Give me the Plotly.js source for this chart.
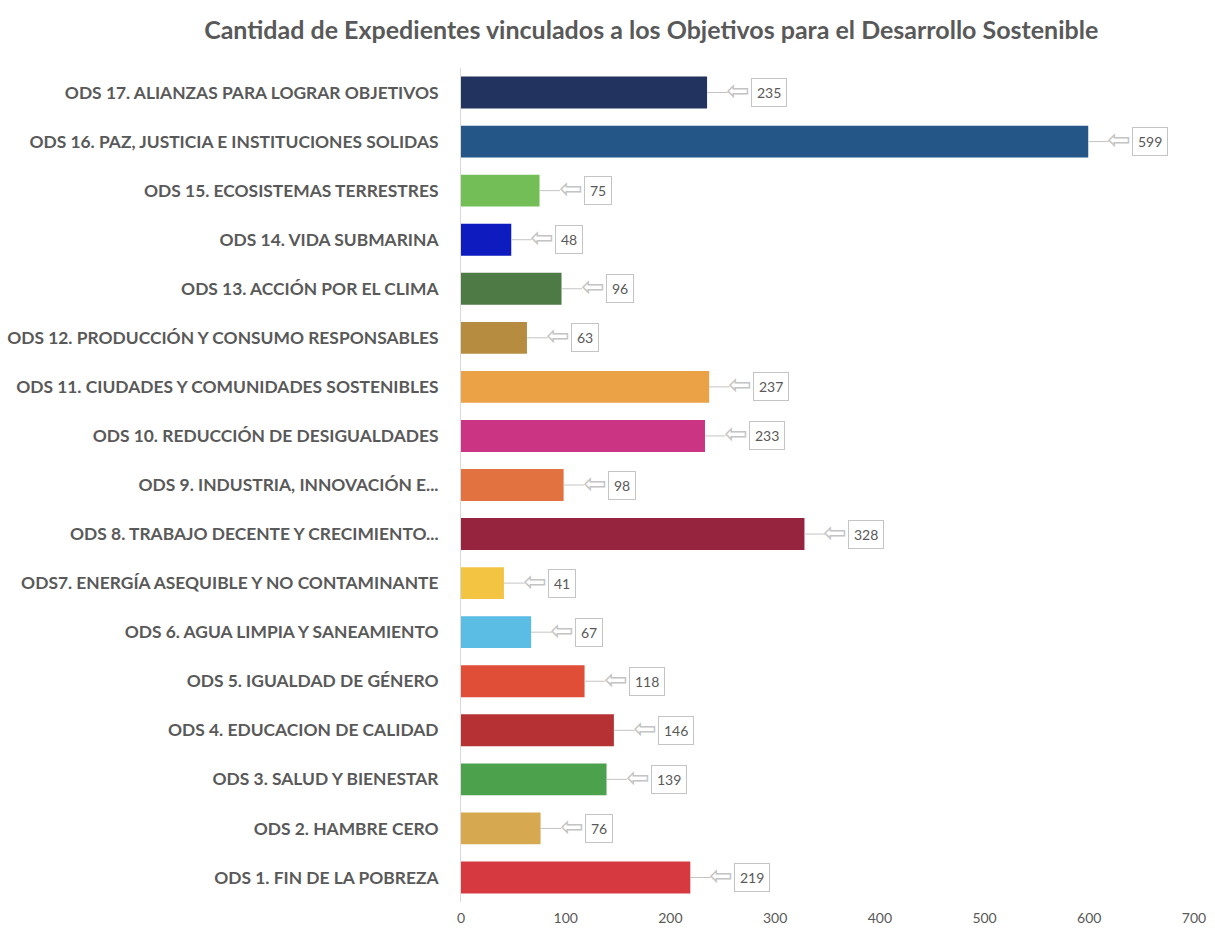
<!DOCTYPE html>
<html><head><meta charset="utf-8">
<script src="https://cdn.plot.ly/plotly-3.0.1.min.js"></script>
<style>body{margin:0;background:#fff}#chart{width:1215px;height:931px}</style>
</head><body><div id="chart"></div>
<script>
const categories = [
  "ODS 1. FIN DE LA POBREZA",
  "ODS 2. HAMBRE CERO",
  "ODS 3. SALUD Y BIENESTAR",
  "ODS 4. EDUCACION DE CALIDAD",
  "ODS 5. IGUALDAD DE GÉNERO",
  "ODS 6. AGUA LIMPIA Y SANEAMIENTO",
  "ODS7. ENERGÍA ASEQUIBLE Y NO CONTAMINANTE",
  "ODS 8. TRABAJO DECENTE Y CRECIMIENTO...",
  "ODS 9. INDUSTRIA, INNOVACIÓN E...",
  "ODS 10. REDUCCIÓN DE DESIGUALDADES",
  "ODS 11. CIUDADES Y COMUNIDADES SOSTENIBLES",
  "ODS 12. PRODUCCIÓN Y CONSUMO RESPONSABLES",
  "ODS 13. ACCIÓN POR EL CLIMA",
  "ODS 14. VIDA SUBMARINA",
  "ODS 15. ECOSISTEMAS TERRESTRES",
  "ODS 16. PAZ, JUSTICIA E INSTITUCIONES SOLIDAS",
  "ODS 17. ALIANZAS PARA LOGRAR OBJETIVOS"
];
const values = [219, 76, 139, 146, 118, 67, 41, 328, 98, 233, 237, 63, 96, 48, 75, 599, 235];
const colors = ["#D6393F","#D6A850","#4CA14D","#B53134","#E04E38","#5BBDE3","#F2C441","#97243F",
  "#E27340","#CB3383","#EBA145","#B68C40","#4E7A46","#0D1BBF","#74BE57","#245688","#22335F"];
const xTicks = [0,100,200,300,400,500,600,700];

const annotations = [];
categories.forEach((c, i) => {
  annotations.push({x: values[i], y: c, xref:'x', yref:'y', text:'', showarrow:true,
    arrowhead:0, arrowwidth:1, arrowcolor:'#c4c4c4', ax:22, ay:0, standoff:0});
  annotations.push({x: values[i], y: c, xref:'x', yref:'y', text:'⇦', showarrow:false,
    xanchor:'left', xshift:17, yshift:2, font:{family:'DejaVu Sans', size:28, color:'#c4c4c4'}});
  annotations.push({x: values[i], y: c, xref:'x', yref:'y', text:String(values[i]), showarrow:false,
    xanchor:'left', xshift:44, bordercolor:'#c4c4c4', borderwidth:1, borderpad:5, bgcolor:'#fff',
    font:{family:'Lato, Open Sans, sans-serif', size:14, color:'#595959'}});
});

const data = [{
  type:'bar', orientation:'h', y: categories, x: values,
  marker:{color: colors}, hoverinfo:'x+y'
}];
const layout = {
  width:1215, height:931,
  margin:{l:461, r:21, t:68, b:29},
  paper_bgcolor:'#fff', plot_bgcolor:'#fff',
  bargap:0.35,
  showlegend:false,
  title:{text:'<b>Cantidad de Expedientes vinculados a los Objetivos para el Desarrollo Sostenible</b>',
    x:0.536, xanchor:'center', y:0.968, yanchor:'middle',
    font:{family:'Lato, Open Sans, sans-serif', size:25, color:'#595959'}},
  xaxis:{range:[0,700], tickvals:xTicks, ticktext:xTicks.map(String), showgrid:false, zeroline:false,
    showline:false, ticks:'', tickfont:{family:'Lato, Open Sans, sans-serif', size:14, color:'#595959'}, ticklabelstandoff:6},
  yaxis:{type:'category', showgrid:false, zeroline:false, showline:true, linecolor:'#d9d9d9', linewidth:1,
    ticks:'', ticklabelstandoff:18,
    tickfont:{family:'Lato, Open Sans, sans-serif', size:17.4, color:'#595959', weight:'bold'}},
  annotations: annotations
};
Plotly.newPlot('chart', data, layout, {displayModeBar:false});
</script></body></html>
